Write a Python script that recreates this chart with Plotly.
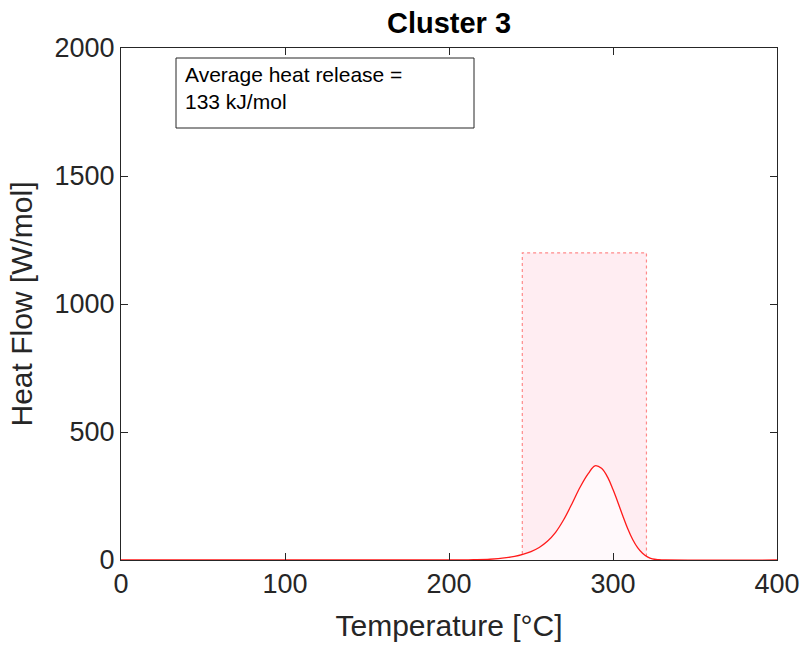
import plotly.graph_objects as go

# Data
temperature = [0, 200, 215, 225, 235, 240, 245, 250, 255, 260, 265, 270, 275, 280, 285, 289,
               293, 297, 300, 303, 306, 309, 312, 315, 318, 321, 324, 328, 332, 400]
heat_flow = [0, 0, 1, 3, 9, 14, 22, 33, 49, 73, 108, 158, 220, 285, 338, 368,
             358, 320, 275, 225, 172, 122, 80, 48, 26, 12, 4, 1, 0, 0]

window_start = 244.7
window_end = 320.4
window_height = 1200

title_text = "Cluster 3"
x_label = "Temperature [°C]"
y_label = "Heat Flow [W/mol]"
note_text = "Average heat release =<br>133 kJ/mol"
x_ticks = [0, 100, 200, 300, 400]
y_ticks = [0, 500, 1000, 1500, 2000]

axis_color = "#262626"
font_family = "Liberation Sans, Arial, Helvetica, sans-serif"

fig = go.Figure()

# shaded window (drawn as a filled trace so it sits beneath the curve)
fig.add_trace(go.Scatter(
    x=[window_start, window_start, window_end, window_end, window_start],
    y=[0, window_height, window_height, 0, 0],
    mode="lines",
    fill="toself",
    fillcolor="#FFEDF2",
    line=dict(color="#FF8A8A", width=1.2, dash="dot"),
    hoverinfo="skip",
    showlegend=False,
))

fig.add_trace(go.Scatter(
    x=temperature,
    y=heat_flow,
    mode="lines",
    line=dict(color="#FF1A1A", width=1.3, shape="spline", smoothing=1.0),
    fill="tozeroy",
    fillcolor="#FFF9FB",
    showlegend=False,
))

fig.update_layout(
    width=805,
    height=646,
    margin=dict(l=121, r=28, t=48, b=86),
    paper_bgcolor="white",
    plot_bgcolor="white",
    font=dict(family=font_family, color=axis_color),
    title=dict(
        text="<b>" + title_text + "</b>",
        x=(121 + 777) / 2 / 805,
        xanchor="center",
        y=1 - 23 / 646,
        yanchor="middle",
        yref="container",
        font=dict(size=29, color="black", family=font_family),
    ),
    showlegend=False,
)

fig.update_xaxes(
    range=[0, 400],
    tickvals=x_ticks,
    ticks="inside",
    ticklen=7,
    tickwidth=1,
    tickcolor=axis_color,
    showline=True,
    linecolor=axis_color,
    linewidth=1,
    mirror="ticks",
    showgrid=False,
    zeroline=False,
    tickfont=dict(size=27, color=axis_color),
    title=dict(text=x_label, font=dict(size=30, color=axis_color), standoff=16),
    automargin=False,
)
fig.update_yaxes(
    range=[0, 2000],
    tickvals=y_ticks,
    ticks="inside",
    ticklen=7,
    tickwidth=1,
    tickcolor=axis_color,
    showline=True,
    linecolor=axis_color,
    linewidth=1,
    mirror="ticks",
    showgrid=False,
    zeroline=False,
    tickfont=dict(size=27, color=axis_color),
    title=dict(text=y_label, font=dict(size=30, color=axis_color), standoff=13),
    automargin=False,
)

# annotation box
fig.add_shape(
    type="rect",
    xref="paper", yref="paper",
    x0=(176 - 121) / 656, x1=(474 - 121) / 656,
    y0=(560 - 128) / 512, y1=(560 - 58) / 512,
    line=dict(color=axis_color, width=1),
    fillcolor="white",
    layer="above",
)
fig.add_annotation(
    xref="paper", yref="paper",
    x=(183 - 121) / 656, y=(560 - 61) / 512,
    xanchor="left", yanchor="top",
    align="left",
    text=note_text,
    showarrow=False,
    font=dict(size=21, color="black", family=font_family),
)

fig.write_html("out.html")
